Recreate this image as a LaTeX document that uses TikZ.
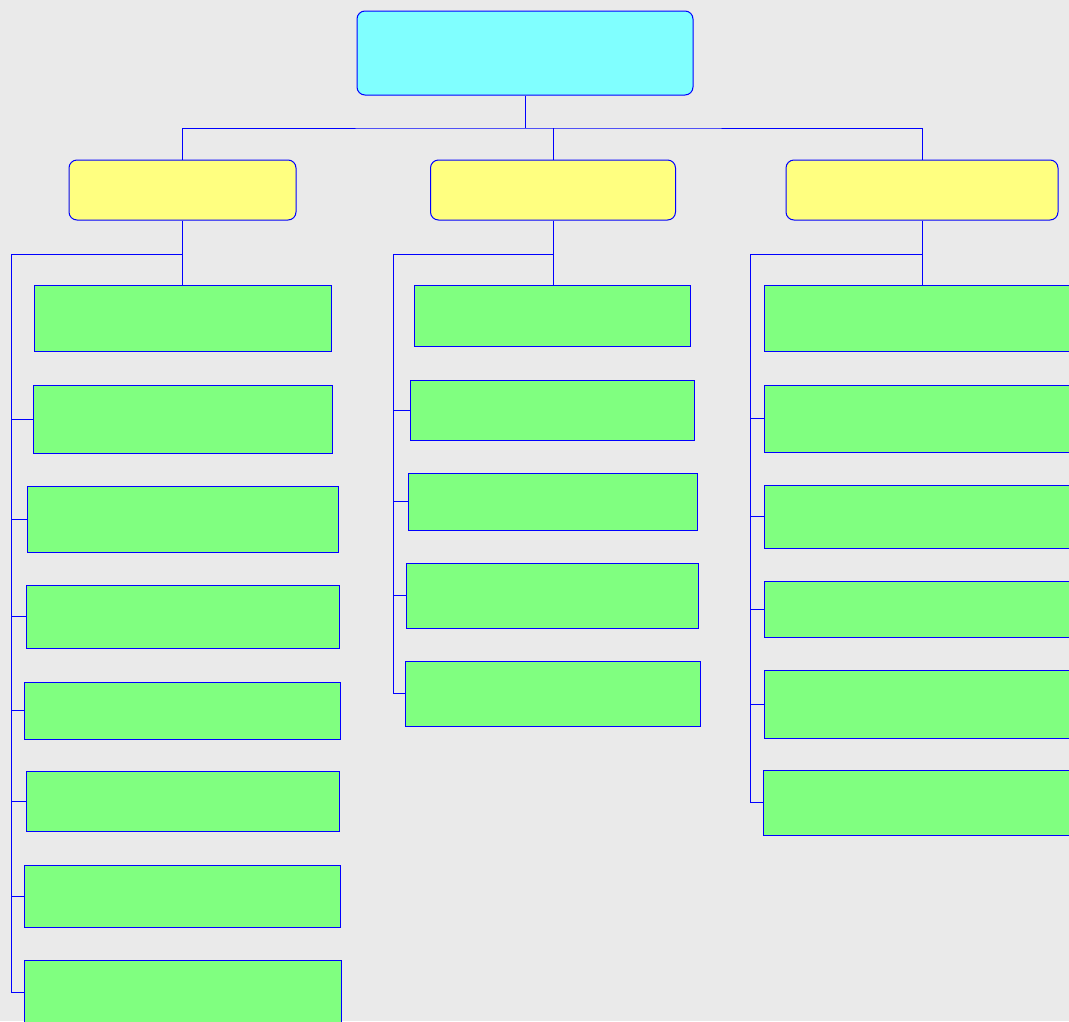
\documentclass[tikz,border=0pt]{standalone}
\usepackage{xcolor}
\usepackage{tikz}
\usetikzlibrary{positioning}

\definecolor{backgr}{HTML}{EAEAEA}
\definecolor{rootfill}{HTML}{80FFFF}
\definecolor{headfill}{HTML}{FFFF80}
\definecolor{itemfill}{HTML}{80FF80}

\tikzset{
  rootbox/.style={draw=blue, fill=rootfill, rounded corners=8pt, inner sep=0pt},
  headbox/.style={draw=blue, fill=headfill, rounded corners=8pt, inner sep=0pt,
    minimum height=60pt},
  itembox/.style={draw=blue, fill=itemfill, inner sep=0pt},
  link/.style={draw=blue, line width=1pt}
}

\begin{document}
\begin{tikzpicture}[x=1pt, y=-1pt, line width=1pt]
        \useasboundingbox (0,0) rectangle (1069,1021);
        \clip (0,0) rectangle (1069,1021);
        \fill[backgr] (0,0) rectangle (1069,1021);

        \node[rootbox, minimum width=336pt, minimum height=84pt] (root) at (525,53) {};

        \node[headbox, minimum width=227pt] (hl) at (182.5,190) {};
        \node[headbox, minimum width=245pt] (hm) at (553,190)   {};
        \node[headbox, minimum width=272pt] (hr) at (922,190)   {};

        \node[itembox, minimum width=297pt, minimum height=66pt] (l1) at (182.5,318.5) {};
        \node[itembox, minimum width=299pt, minimum height=68pt] (l2) at (182.5,419)   {};
        \node[itembox, minimum width=311pt, minimum height=66pt] (l3) at (182.5,519)   {};
        \node[itembox, minimum width=313pt, minimum height=63pt] (l4) at (182.5,616.5) {};
        \node[itembox, minimum width=316pt, minimum height=57pt] (l5) at (182,710.5)   {};
        \node[itembox, minimum width=313pt, minimum height=60pt] (l6) at (182.5,801)   {};
        \node[itembox, minimum width=316pt, minimum height=62pt] (l7) at (182,896)     {};
        \node[itembox, minimum width=317pt, minimum height=64pt] (l8) at (182.5,992)   {};

        \node[itembox, minimum width=276pt, minimum height=61pt] (m1) at (552,316)     {};
        \node[itembox, minimum width=284pt, minimum height=60pt] (m2) at (552,410)     {};
        \node[itembox, minimum width=289pt, minimum height=57pt] (m3) at (552.5,501.5) {};
        \node[itembox, minimum width=292pt, minimum height=65pt] (m4) at (552,595.5)   {};
        \node[itembox, minimum width=295pt, minimum height=65pt] (m5) at (552.5,693.5) {};

        \node[itembox, minimum width=316pt, minimum height=66pt] (r1) at (922,318.5)   {};
        \node[itembox, minimum width=316pt, minimum height=67pt] (r2) at (922,418.5)   {};
        \node[itembox, minimum width=316pt, minimum height=63pt] (r3) at (922,516.5)   {};
        \node[itembox, minimum width=316pt, minimum height=56pt] (r4) at (922,609)     {};
        \node[itembox, minimum width=316pt, minimum height=68pt] (r5) at (922,704)     {};
        \node[itembox, minimum width=317pt, minimum height=65pt] (r6) at (921.5,802.5) {};

        \coordinate (hub) at (525,128);
        \coordinate (sl) at (11,254);
        \coordinate (sm) at (393,254);
        \coordinate (sr) at (750,254);

        \path[link]
        (root.south) -- (hub)
        (hl.north) |- (hub) -| (hr.north)
        (hm.north) -- (hm.north |- hub);

        \path[link]
        (hl.south) -- (hl.south |- l1.north)
        (sl) -- (sl -| hl.south)
        (sl) |- (l8.west)
        (hm.south) -- (hm.south |- m1.north)
        (sm) -- (sm -| hm.south)
        (sm) |- (m5.west)
        (hr.south) -- (hr.south |- r1.north)
        (sr) -- (sr -| hr.south)
        (sr) |- (r6.west);

        \foreach \n in {l2,l3,l4,l5,l6,l7}
          \draw[link] (\n.west) -- (\n.west -| sl);
        \foreach \n in {m2,m3,m4}
          \draw[link] (\n.west) -- (\n.west -| sm);
        \foreach \n in {r2,r3,r4,r5}
          \draw[link] (\n.west) -- (\n.west -| sr);
      \end{tikzpicture}
\end{document}
